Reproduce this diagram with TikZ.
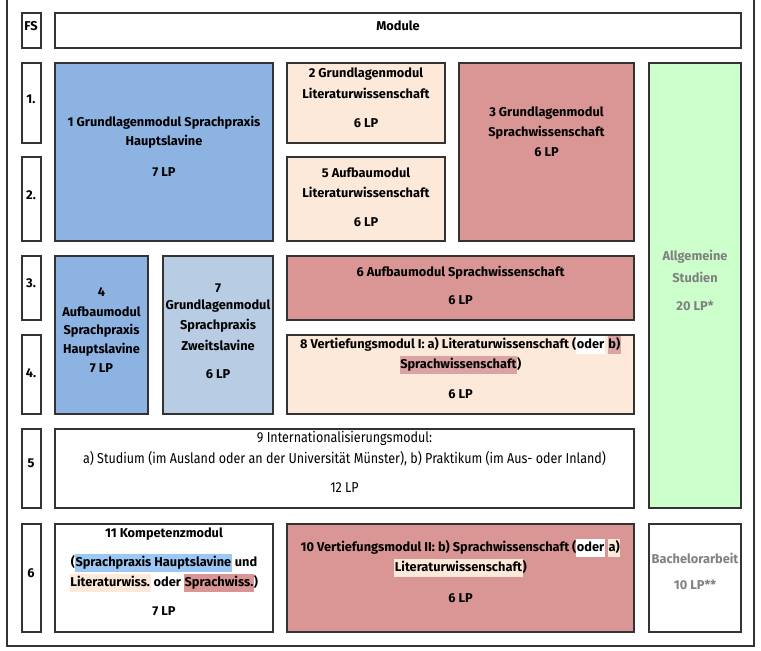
\documentclass[tikz,border=0pt]{standalone}
\usepackage{fontspec}
\setmainfont{Fira Sans}
\newfontfamily\condfont[FakeStretch=0.87]{Fira Sans}
\definecolor{blueA}{HTML}{8DB3E2}
\definecolor{blueB}{HTML}{B8CCE4}
\definecolor{peach}{HTML}{FDE9D9}
\definecolor{rose}{HTML}{D99694}
\definecolor{roseL}{HTML}{DBA3A3}
\definecolor{greenL}{HTML}{CCFFCC}
\definecolor{hlblue}{HTML}{9DC8F5}
\definecolor{edge}{HTML}{333333}
\definecolor{txtgray}{HTML}{808080}
\newcommand\hlstrut{\rule[-4.8pt]{0pt}{17.5pt}}
\newcommand\hl[2]{{\setlength{\fboxsep}{0.6pt}\colorbox{#1}{\hlstrut#2}}}
\newcommand\mybox[6]{\node[box,fill=#6,minimum width={#4pt-#2pt},minimum height={#5pt-#3pt}] (#1) at ({(#2+#4)/2},{(#3+#5)/2}) {};}
\tikzset{
  box/.style={draw=edge,line width=1.2pt,inner sep=0pt,outer sep=0pt},
  txt/.style={inner sep=0pt,font=\fontsize{12.8}{15}\selectfont\bfseries,text=black},
  gtxt/.style={txt,text=txtgray},
  ctxt/.style={inner sep=0pt,font=\fontsize{14.4}{16}\selectfont\condfont,text=black}
}
\begin{document}
\begin{tikzpicture}[x=1pt,y=-1pt]
\useasboundingbox (0,0) rectangle (761,651);
% outer frame
\coordinate (oTL) at (7,-5);
\coordinate (oBR) at (754,646);
\draw[draw=edge,line width=1.2pt] (oTL) rectangle (oBR);
% header
\mybox{fs}{22}{13}{41}{48}{white}
\mybox{mod}{55}{13}{741}{48}{white}
% semester labels
\mybox{s1}{22}{63}{41}{143}{white}
\mybox{s2}{22}{157}{41}{241}{white}
\mybox{s3}{22}{256}{41}{320}{white}
\mybox{s4}{22}{335}{41}{414}{white}
\mybox{s5}{22}{429}{41}{508}{white}
\mybox{s6}{22}{524}{41}{632}{white}
% modules
\mybox{b1}{55}{63}{273}{241}{blueA}
\mybox{b2}{287}{63}{445}{143}{peach}
\mybox{b5}{287}{157}{445}{241}{peach}
\mybox{b3}{459}{63}{634}{241}{rose}
\mybox{ba}{649}{63}{741}{508}{greenL}
\mybox{b4}{55}{256}{148}{414}{blueA}
\mybox{b7}{163}{256}{273}{414}{blueB}
\mybox{b6}{287}{256}{634}{320}{rose}
\mybox{b8}{287}{335}{634}{414}{peach}
\mybox{b9}{55}{429}{634}{508}{white}
\mybox{b11}{55}{524}{273}{632}{white}
\mybox{b10}{287}{524}{634}{632}{rose}
\mybox{bb}{649}{524}{741}{632}{white}
% header texts
\node[txt] (tfs) at (31,26) {FS};
\node[txt] (tmod) at (398,26) {Module};
\node[txt] (t1s) at (31,99) {1.};
\node[txt] (t2s) at (31,195) {2.};
\node[txt] (t3s) at (31,283) {3.};
\node[txt] (t4s) at (31,373) {4.};
\node[txt] (t5s) at (31,463) {5};
\node[txt] (t6s) at (31,573) {6};
% box 1
\node[txt] (t1a) at (164,123) {1 Grundlagenmodul Sprachpraxis};
\node[txt] (t1b) at (164,142) {Hauptslavine};
\node[txt] (t1c) at (164,172) {7 LP};
% box 2
\node[txt] (t2a) at (366,74) {2 Grundlagenmodul};
\node[txt] (t2b) at (366,93) {Literaturwissenschaft};
\node[txt] (t2c) at (366,123) {6 LP};
% box 5
\node[txt] (t5a) at (366,173) {5 Aufbaumodul};
\node[txt] (t5b) at (366,192) {Literaturwissenschaft};
\node[txt] (t5c) at (366,222) {6 LP};
% box 3
\node[txt] (t3a) at (546.5,113) {3 Grundlagenmodul};
\node[txt] (t3b) at (546.5,133) {Sprachwissenschaft};
\node[txt] (t3c) at (546.5,152) {6 LP};
% green
\node[gtxt] (taa) at (695,257) {Allgemeine};
\node[gtxt] (tab) at (695,277) {Studien};
\node[gtxt] (tac) at (695,306) {20 LP*};
% box 4
\node[txt] (t4a) at (101.5,292) {4};
\node[txt] (t4b) at (101.5,312) {Aufbaumodul};
\node[txt] (t4c) at (101.5,331) {Sprachpraxis};
\node[txt] (t4d) at (101.5,350) {Hauptslavine};
\node[txt] (t4e) at (101.5,368) {7 LP};
% box 7
\node[txt] (t7a) at (218,288) {7};
\node[txt] (t7b) at (218,306) {Grundlagenmodul};
\node[txt] (t7c) at (218,326) {Sprachpraxis};
\node[txt] (t7d) at (218,345) {Zweitslavine};
\node[txt] (t7e) at (218,374) {6 LP};
% box 6
\node[txt] (t6a) at (460.5,273) {6 Aufbaumodul Sprachwissenschaft};
\node[txt] (t6b) at (460.5,300) {6 LP};
% box 8
\node[txt] (t8a) at (460.5,345) {8 Vertiefungsmodul I: a) Literaturwissenschaft (\hl{white}{oder} \hl{roseL}{b)}};
\node[txt] (t8b) at (460.5,365) {\hl{roseL}{Sprachwissenschaft})};
\node[txt] (t8c) at (460.5,394) {6 LP};
% box 9
\node[ctxt] (t9a) at (344.5,438) {9 Internationalisierungsmodul:};
\node[ctxt] (t9b) at (344.5,459) {a) Studium (im Ausland oder an der Universität Münster), b) Praktikum (im Aus- oder Inland)};
\node[ctxt] (t9c) at (344.5,488) {12 LP};
% box 11
\node[txt] (t11a) at (164,534) {11 Kompetenzmodul};
\node[txt] (t11b) at (164,563) {(\hl{hlblue}{Sprachpraxis Hauptslavine} und};
\node[txt] (t11c) at (164,583) {\hl{peach}{Literaturwiss.} oder \hl{rose}{Sprachwiss.})};
\node[txt] (t11d) at (164,611) {7 LP};
% box 10
\node[txt] (t10a) at (460.5,548) {10 Vertiefungsmodul II: b) Sprachwissenschaft (\hl{white}{oder} \hl{peach}{a)}};
\node[txt] (t10b) at (460.5,568) {\hl{peach}{Literaturwissenschaft})};
\node[txt] (t10c) at (460.5,598) {6 LP};
% Bachelorarbeit
\node[gtxt] (tba) at (695,558) {Bachelorarbeit};
\node[gtxt] (tbb) at (695,585) {10 LP**};
\end{tikzpicture}
\end{document}
